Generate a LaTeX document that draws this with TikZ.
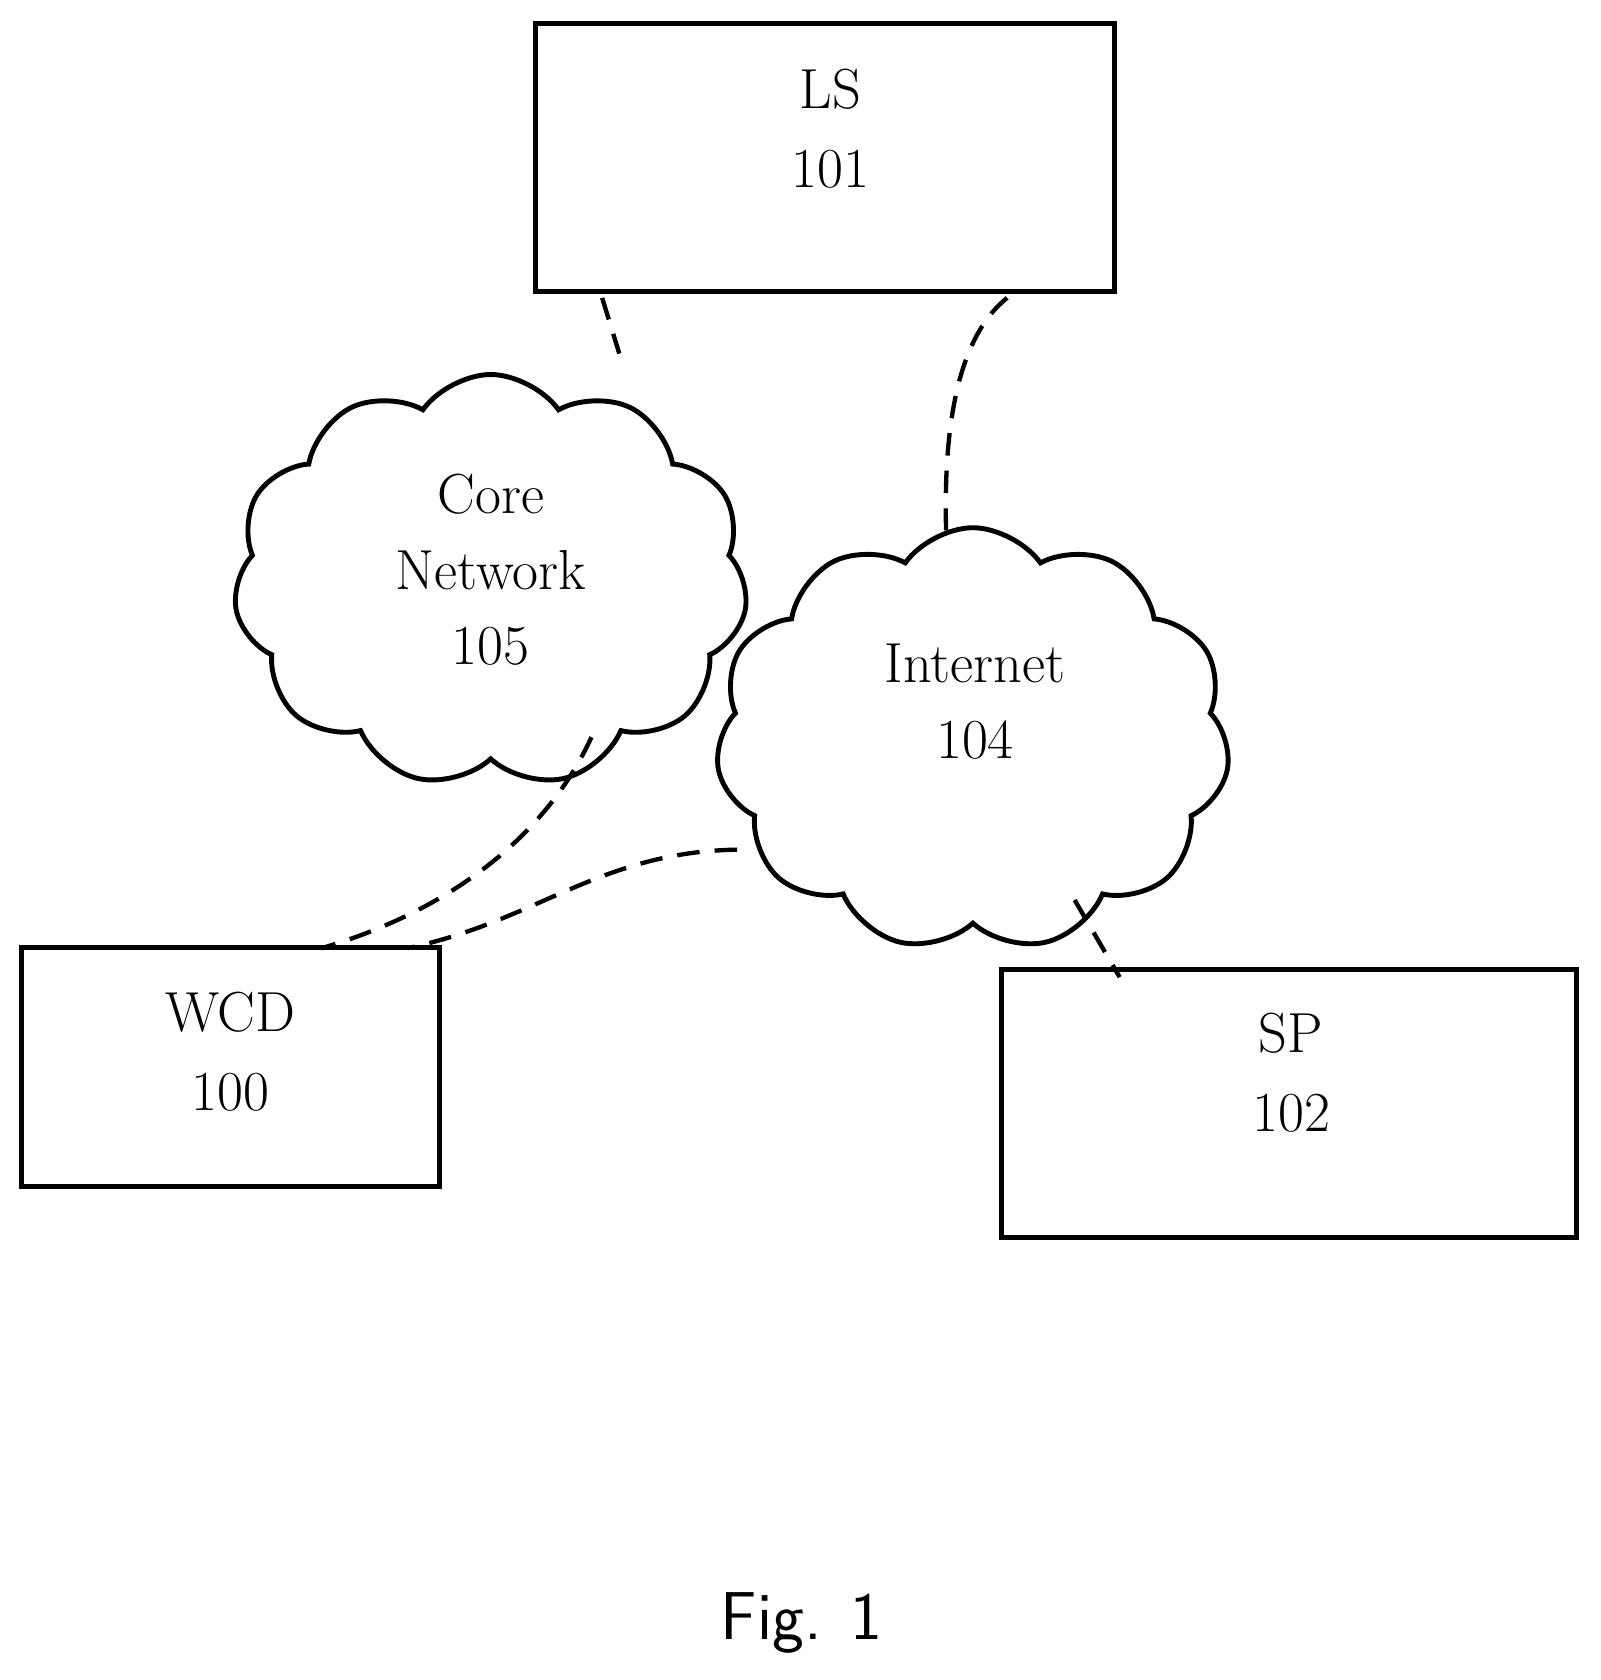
\documentclass[tikz,border=0pt]{standalone}
\usetikzlibrary{shapes.symbols}
\begin{document}
\begin{tikzpicture}[x=0.02cm,y=-0.02cm,
 box/.style={draw,line width=2.8pt,inner sep=0pt,font=\fontsize{30}{42}\selectfont,align=center},
 cl/.style={draw,cloud,cloud puffs=11,cloud puff arc=110,line width=2.6pt,inner sep=0pt,font=\fontsize{30}{42}\selectfont,align=center},
 conn/.style={line width=2.3pt,dash pattern=on 12pt off 8pt}]
\useasboundingbox (0,0) rectangle (1494,1568);
\node[box,minimum width=10.8cm,minimum height=5cm] (ls) at (770,147) {};
\node[font=\fontsize{30}{42}\selectfont,align=center] (lst) at (775,120) {LS\\101};
\node[box,minimum width=7.8cm,minimum height=4.46cm] (wcd) at (215,996) {};
\node[font=\fontsize{30}{42}\selectfont,align=center] (wcdt) at (215,982) {WCD\\100};
\node[box,minimum width=10.74cm,minimum height=5cm] (sp) at (1203,1030) {};
\node[font=\fontsize{30}{42}\selectfont,align=center] (spt) at (1205,1001) {SP\\102};
\node[cl,minimum width=9.6cm,minimum height=7.7cm] (core) at (458,542) {};
\node[font=\fontsize{30}{40}\selectfont,align=center] (coret) at (458,532) {Core\\Network\\105};
\node[cl,minimum width=9.6cm,minimum height=7.9cm] (inet) at (908,690) {};
\node[font=\fontsize{30}{40}\selectfont,align=center] (inett) at (910,655) {Internet\\104};
\node[font=\fontsize{36}{40}\sffamily] (fig) at (748,1515) {Fig. 1};
\coordinate (a1) at (562,278); \coordinate (a2) at (578,330);
\draw[conn] (a1) -- (a2);
\coordinate (b1) at (940,278); \coordinate (b2) at (883,495);
\draw[conn] (b1) .. controls (900,310) and (880,380) .. (b2);
\coordinate (c1) at (552,688); \coordinate (c2) at (300,885);
\draw[conn] (c1) .. controls (510,780) and (420,850) .. (c2);
\coordinate (d1) at (688,793); \coordinate (d2) at (380,885);
\draw[conn] (d1) .. controls (560,795) and (500,860) .. (d2);
\coordinate (e1) at (1003,840); \coordinate (e2) at (1045,912);
\draw[conn] (e1) -- (e2);
\end{tikzpicture}
\end{document}
